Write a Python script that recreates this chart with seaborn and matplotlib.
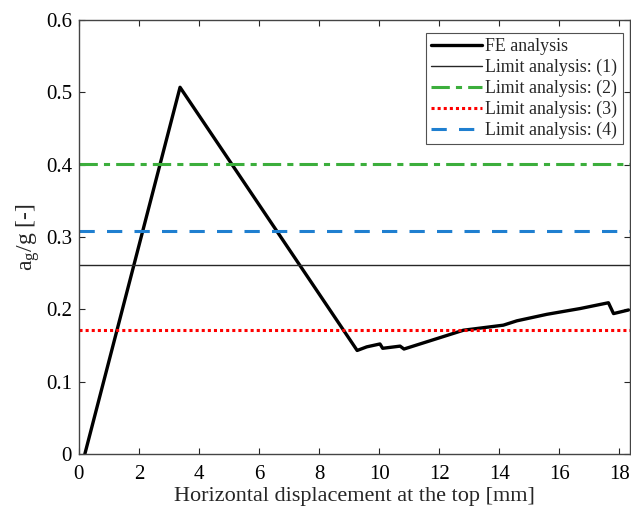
import numpy as np
import pandas as pd
import seaborn as sns
import matplotlib.pyplot as plt

sns.set_style("ticks")
plt.rcParams["font.family"] = ["Liberation Serif", "DejaVu Serif"]
plt.rcParams["mathtext.fontset"] = "custom"
plt.rcParams["mathtext.rm"] = "Liberation Serif"
plt.rcParams["mathtext.it"] = "Liberation Serif:italic"
plt.rcParams["xtick.direction"] = "in"
plt.rcParams["ytick.direction"] = "in"
plt.rcParams["xtick.top"] = True
plt.rcParams["ytick.right"] = True

# FE analysis curve
fe_disp = [0.2, 3.37, 9.27, 9.59, 10.03, 10.12, 10.7, 10.83, 12.81, 14.14,
           14.59, 15.59, 16.7, 17.64, 17.81, 18.31]
fe_acc = [0.0, 0.507, 0.143, 0.148, 0.152, 0.146, 0.149, 0.145, 0.171, 0.178,
          0.184, 0.193, 0.201, 0.209, 0.194, 0.199]

# limit analysis levels
limit_labels = ["Limit analysis: (1)", "Limit analysis: (2)",
                "Limit analysis: (3)", "Limit analysis: (4)"]
limit_values = [0.261, 0.401, 0.171, 0.308]
limit_colors = ["#262626", "#3cae3c", "#ff0000", "#1f7fd0"]
limit_styles = ["-", (0, (6, 2, 2, 2)), (0, (1, 1)), (0, (5, 4))]
limit_widths = [1.0, 2.2, 2.2, 2.2]

df = pd.DataFrame({"disp": fe_disp, "acc": fe_acc})

fig = plt.figure(figsize=(6.31, 5.14), dpi=100)
ax = fig.add_axes([0.125, 0.117, 0.873, 0.844])

sns.lineplot(data=df, x="disp", y="acc", color="black", lw=2.4,
             label="FE analysis", ax=ax, sort=False)
for lab, val, col, ls, lw in zip(limit_labels, limit_values, limit_colors,
                                 limit_styles, limit_widths):
    ax.axhline(val, color=col, ls=ls, lw=lw, label=lab)

ax.set_xlim(0, 18.35)
ax.set_ylim(0, 0.6)
ax.set_xticks(np.arange(0, 19, 2))
ax.set_yticks(np.arange(0, 0.61, 0.1))
ax.set_yticklabels(["0", "0.1", "0.2", "0.3", "0.4", "0.5", "0.6"])
ax.tick_params(labelsize=15, length=4, width=0.8, colors="#262626",
               labelcolor="black")
ax.tick_params(axis="x", pad=8)
ax.tick_params(axis="y", pad=5)
for sp in ax.spines.values():
    sp.set_color("#444444")
    sp.set_linewidth(1.0)

ax.set_xlabel("Horizontal displacement at the top [mm]", fontsize=16,
              labelpad=2)
ax.set_ylabel(r"a$_{\rm g}$/g [-]", fontsize=17, labelpad=3)

leg = ax.legend(loc="upper right", fontsize=12.9, handlelength=2.8,
                handletextpad=0.2, borderpad=0.3, labelspacing=0.2,
                borderaxespad=0, frameon=True, fancybox=False,
                edgecolor="#262626", bbox_to_anchor=(0.987, 0.970))
leg.get_frame().set_linewidth(0.8)

plt.savefig("out.png", dpi=100)
plt.close()
